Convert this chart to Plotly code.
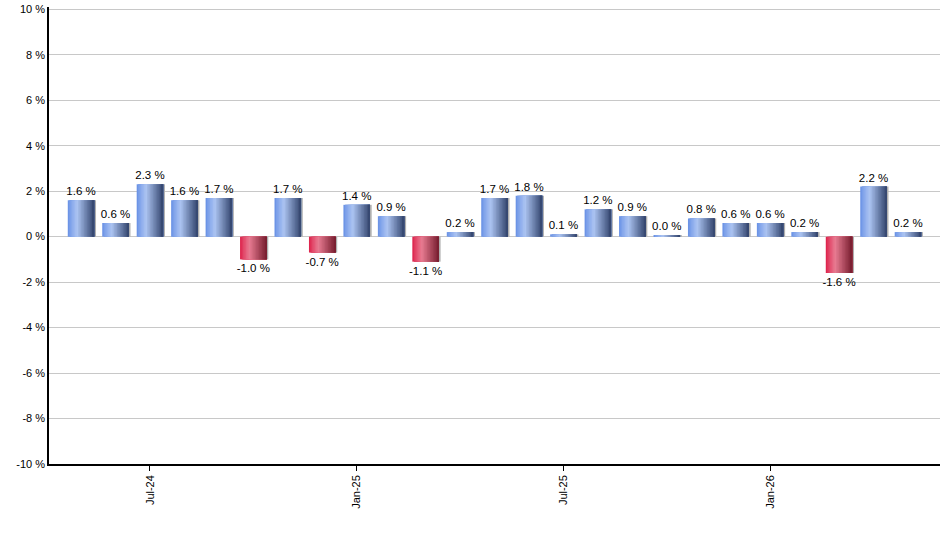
import plotly.graph_objects as go

# monthly change, May-24 .. May-26
months = ["May-24", "Jun-24", "Jul-24", "Aug-24", "Sep-24", "Oct-24", "Nov-24",
          "Dec-24", "Jan-25", "Feb-25", "Mar-25", "Apr-25", "May-25", "Jun-25",
          "Jul-25", "Aug-25", "Sep-25", "Oct-25", "Nov-25", "Dec-25", "Jan-26",
          "Feb-26", "Mar-26", "Apr-26", "May-26"]
changes = [1.6, 0.6, 2.3, 1.6, 1.7, -1.0, 1.7, -0.7, 1.4, 0.9, -1.1, 0.2, 1.7,
           1.8, 0.1, 1.2, 0.9, 0.04, 0.8, 0.6, 0.6, 0.2, -1.6, 2.2, 0.2]
tick_labels = ["Jul-24", "Jan-25", "Jul-25", "Jan-26"]
y_ticks = [-10, -8, -6, -4, -2, 0, 2, 4, 6, 8, 10]

x = list(range(len(months)))
tick_pos = [months.index(t) for t in tick_labels]

# horizontal gradient stops (position, rgb)
blue_stops = [(0.0, (108, 148, 230)), (0.35, (172, 196, 242)), (1.0, (50, 68, 108))]
red_stops = [(0.0, (222, 38, 78)), (0.35, (232, 124, 146)), (1.0, (118, 28, 46))]


def grad(stops, t):
    for (p0, c0), (p1, c1) in zip(stops, stops[1:]):
        if t <= p1:
            f = (t - p0) / (p1 - p0)
            c = [round(a + (b - a) * f) for a, b in zip(c0, c1)]
            return "rgb(%d,%d,%d)" % tuple(c)
    return "rgb(%d,%d,%d)" % stops[-1][1]


bar_w = 0.77
n_strips = 18

fig = go.Figure()

# soft shadow
fig.add_trace(go.Bar(
    x=x, y=changes, width=bar_w, offset=-bar_w / 2 + 0.05,
    marker=dict(color="rgb(175,175,175)", line=dict(width=0)),
    hoverinfo="skip", showlegend=False))

# base bar carrying the labels
fig.add_trace(go.Bar(
    x=x, y=changes, width=bar_w,
    marker=dict(color=[grad(blue_stops if v >= 0 else red_stops, 0.0) for v in changes],
                line=dict(width=0)),
    text=["%.1f %%" % v for v in changes], textposition="outside",
    constraintext="none", cliponaxis=False,
    textfont=dict(family="Liberation Sans, Arial", size=11.5, color="#000000"),
    hoverinfo="skip", showlegend=False))

# each strip runs from its left edge to the bar's right edge -> no seams
sw = bar_w / n_strips
for i in range(1, n_strips):
    t = (i + 0.5) / n_strips
    cols = [grad(blue_stops if v >= 0 else red_stops, t) for v in changes]
    fig.add_trace(go.Bar(
        x=x, y=changes, width=bar_w - i * sw, offset=-bar_w / 2 + i * sw,
        marker=dict(color=cols, line=dict(width=0)),
        hoverinfo="skip", showlegend=False))

fig.update_layout(
    width=940, height=550,
    margin=dict(l=49, r=0, t=7, b=86),
    barmode="overlay",
    plot_bgcolor="white", paper_bgcolor="white",
    font=dict(family="Liberation Sans, Arial", size=11, color="#000000"),
    xaxis=dict(
        range=[-0.93, len(months) - 1 + 0.93], automargin=False,
        tickmode="array", tickvals=tick_pos, ticktext=tick_labels,
        tickangle=-90, ticks="outside", ticklen=5, tickcolor="black",
        showgrid=False, zeroline=False,
        showline=True, linecolor="black", linewidth=1.5),
    yaxis=dict(
        range=[-10, 10.1], automargin=False,
        tickvals=y_ticks, ticktext=["%d %%" % v for v in y_ticks],
        showgrid=True, gridcolor="#c8c8c8", gridwidth=1,
        zeroline=False, ticks="",
        showline=True, linecolor="black", linewidth=1.5),
)

# drop the default body margin so the figure sits at the page corner
fig.write_html("out.html", config={"displayModeBar": False},
               post_script="document.body.style.margin='0';")
